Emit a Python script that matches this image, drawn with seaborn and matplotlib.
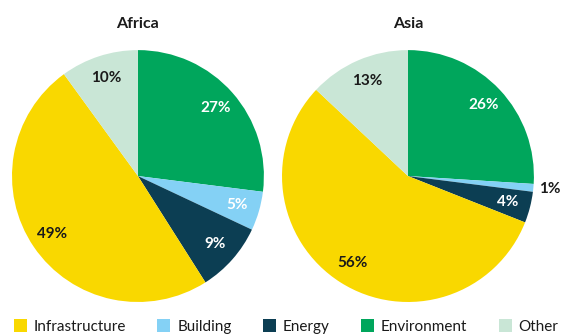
import matplotlib
matplotlib.use("Agg")
import matplotlib.pyplot as plt
from matplotlib.patches import Patch
import seaborn as sns

sns.set_theme(style="white")
plt.rcParams['font.family'] = ['Lato', 'DejaVu Sans']

categories = ["Environment", "Building", "Energy", "Infrastructure", "Other"]
africa = [27, 5, 9, 49, 10]
asia = [26, 1, 4, 56, 13]
regions = ["Africa", "Asia"]
legend_order = ["Infrastructure", "Building", "Energy", "Environment", "Other"]

colors = {
    "Infrastructure": "#F9D800",
    "Building": "#84D1F5",
    "Energy": "#0C3E53",
    "Environment": "#00A65C",
    "Other": "#C9E6D6",
}
label_colors = {
    "Infrastructure": "#1a1a1a",
    "Building": "white",
    "Energy": "white",
    "Environment": "white",
    "Other": "#1a1a1a",
}
palette = sns.color_palette([colors[c] for c in categories])

fig = plt.figure(figsize=(5.61, 3.35), dpi=100)
axes = [fig.add_axes([0.0214, 0.0985, 0.449, 0.752]),
        fig.add_axes([0.5027, 0.0985, 0.449, 0.752])]

for ax, name, vals in zip(axes, regions, [africa, asia]):
    wedges, texts, autotexts = ax.pie(
        vals, colors=palette, startangle=90, counterclock=False,
        autopct=lambda p: f"{p:.0f}%", pctdistance=0.82,
        wedgeprops=dict(linewidth=0),
        textprops=dict(fontsize=11, fontweight="bold"))
    for cat, t, v in zip(categories, autotexts, vals):
        t.set_color(label_colors[cat])
        if v <= 2:
            t.set_color("#1a1a1a")
            x, y = t.get_position()
            scale = 1.13 / 0.82
            t.set_position((x * scale, y * scale))
    ax.set_xlim(-1, 1)
    ax.set_ylim(-1, 1)
    ax.set_aspect("equal")
    ax.set_title(name, fontsize=11.5, fontweight="bold", pad=16, color="#1a1a1a")

handles = [Patch(facecolor=colors[c], edgecolor="none") for c in legend_order]
fig.legend(handles, legend_order, loc="center", bbox_to_anchor=(0.51, 0.025),
           ncol=5, frameon=False, fontsize=11, handlelength=0.85, handleheight=0.85,
           columnspacing=2.05, handletextpad=0.45, labelcolor="#1a1a1a")

fig.savefig("out.png", dpi=100)
